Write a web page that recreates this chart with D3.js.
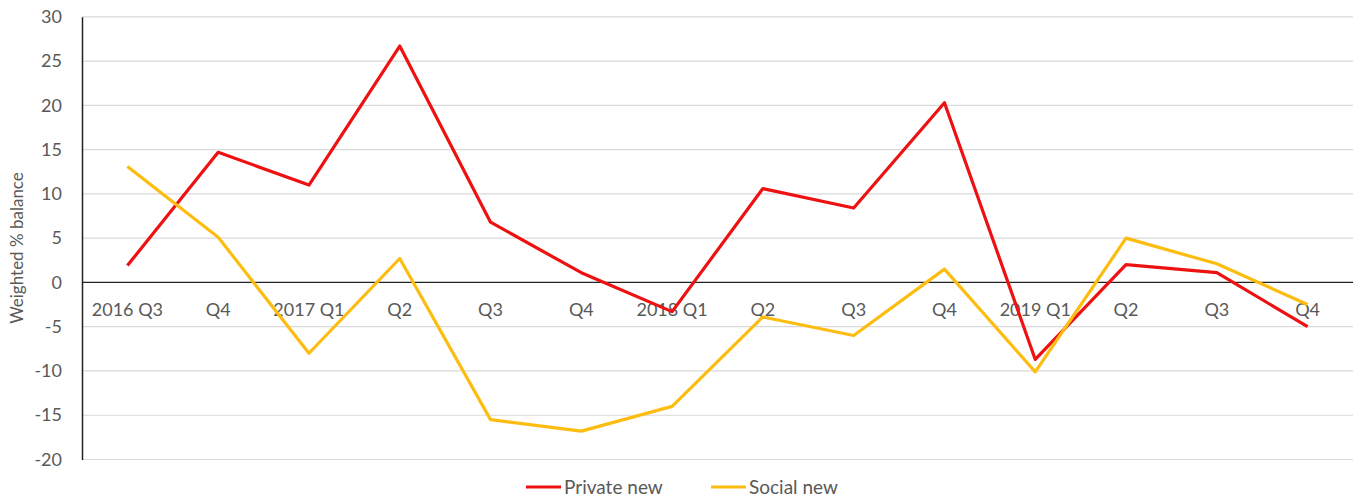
<!DOCTYPE html>
<html>
<head>
<meta charset="utf-8">
<script src="https://cdn.jsdelivr.net/npm/d3@7"></script>
<style>
  html, body { margin: 0; padding: 0; background: #fff; }
  svg { display: block; }
  text { font-family: Lato, "Open Sans", sans-serif; fill: #595959; }
</style>
</head>
<body>
<svg id="chart" width="1357" height="498"></svg>
<script>
// Quarterly categories and weighted % balances
const quarters = ["2016 Q3", "Q4", "2017 Q1", "Q2", "Q3", "Q4", "2018 Q1", "Q2", "Q3", "Q4", "2019 Q1", "Q2", "Q3", "Q4"];
const privateNew = [1.9, 14.7, 11.0, 26.7, 6.8, 1.1, -3.3, 10.6, 8.4, 20.3, -8.7, 2.0, 1.1, -5.0];
const socialNew = [13.1, 5.1, -8.0, 2.7, -15.5, -16.8, -14.0, -3.9, -6.0, 1.5, -10.1, 5.0, 2.1, -2.5];
const yTicks = [-20, -15, -10, -5, 0, 5, 10, 15, 20, 25, 30];

const seriesList = [
  { name: "Private new", values: privateNew, color: "#ee1111" },
  { name: "Social new", values: socialNew, color: "#fdbd10" }
];

const svg = d3.select("#chart");
const margin = { left: 82, right: 4, top: 17, bottom: 39 };
const W = 1357, H = 498;

const x = d3.scalePoint()
  .domain(d3.range(quarters.length))
  .range([margin.left, W - margin.right])
  .padding(0.5);

const y = d3.scaleLinear()
  .domain([-20, 30])
  .range([459.5, 16.8]);

// Horizontal gridlines
svg.append("g")
  .selectAll("line")
  .data(yTicks.filter(d => d !== 0))
  .join("line")
  .attr("x1", margin.left)
  .attr("x2", W - margin.right)
  .attr("y1", d => y(d))
  .attr("y2", d => y(d))
  .attr("stroke", "#d9d9d9")
  .attr("stroke-width", 1.2);

// Y axis with tick labels (plain hyphen for negatives)
const yAxis = svg.append("g")
  .attr("transform", `translate(${margin.left},0)`)
  .call(d3.axisLeft(y).tickValues(yTicks).tickFormat(d => String(d)).tickSize(0).tickPadding(20));
yAxis.select(".domain").attr("stroke", "#222").attr("stroke-width", 1.5);
yAxis.selectAll("text")
  .style("font-family", "Lato, 'Open Sans', sans-serif")
  .style("font-size", "18px")
  .attr("fill", "#595959");

// Zero line
svg.append("line")
  .attr("x1", margin.left)
  .attr("x2", W - margin.right)
  .attr("y1", y(0))
  .attr("y2", y(0))
  .attr("stroke", "#222")
  .attr("stroke-width", 1.3);

// Category labels just below the zero line
svg.append("g")
  .selectAll("text")
  .data(quarters)
  .join("text")
  .attr("x", (d, i) => x(i))
  .attr("y", y(0) + 34)
  .attr("text-anchor", "middle")
  .style("font-size", "18px")
  .text(d => d);

// Series lines
const line = d3.line()
  .x((d, i) => x(i))
  .y(d => y(d));

svg.append("g")
  .selectAll("path")
  .data(seriesList)
  .join("path")
  .attr("d", d => line(d.values))
  .attr("fill", "none")
  .attr("stroke", d => d.color)
  .attr("stroke-width", 3.2)
  .attr("stroke-linejoin", "round");

// Y axis title
svg.append("text")
  .attr("transform", "translate(23,248) rotate(-90)")
  .attr("text-anchor", "middle")
  .style("font-size", "17px")
  .text("Weighted % balance");

// Legend
const legendItems = [
  { x0: 526, s: seriesList[0] },
  { x0: 711, s: seriesList[1] }
];
const lg = svg.append("g");
legendItems.forEach(item => {
  lg.append("line")
    .attr("x1", item.x0)
    .attr("x2", item.x0 + 35)
    .attr("y1", 487)
    .attr("y2", 487)
    .attr("stroke", item.s.color)
    .attr("stroke-width", 3.2);
  lg.append("text")
    .attr("x", item.x0 + 38)
    .attr("y", 494)
    .style("font-size", "19px")
    .text(item.s.name);
});
</script>
</body>
</html>
